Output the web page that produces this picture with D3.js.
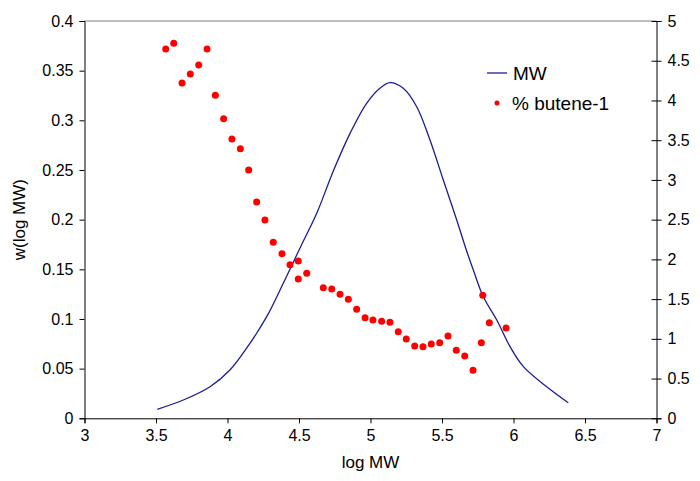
<!DOCTYPE html>
<html>
<head>
<meta charset="utf-8">
<script src="https://cdn.jsdelivr.net/npm/d3@7"></script>
<style>
  html, body { margin: 0; padding: 0; background: #fff; }
  svg { display: block; font-family: Arial, "Liberation Sans", sans-serif; }
</style>
</head>
<body>
<svg id="chart" width="700" height="481"></svg>
<script>
// MW distribution curve: log MW and w(log MW)
const mwLogX = [3.509, 3.691, 3.878, 4.017, 4.157, 4.274, 4.390, 4.460, 4.514, 4.624, 4.740, 4.857, 4.973, 5.066, 5.136, 5.229, 5.323, 5.416, 5.509, 5.603, 5.666, 5.719, 5.789, 5.883, 5.976, 6.069, 6.232, 6.383];
const mwW = [0.0091, 0.0184, 0.0318, 0.0486, 0.0755, 0.1023, 0.1359, 0.1570, 0.1735, 0.2064, 0.2490, 0.2869, 0.3171, 0.3322, 0.3379, 0.3322, 0.3137, 0.2802, 0.2399, 0.1997, 0.1712, 0.1493, 0.1224, 0.0990, 0.0721, 0.0520, 0.0318, 0.0157];

// % butene-1 points: log MW and percentage (right axis)
const buteneLogX = [3.568, 3.624, 3.682, 3.740, 3.799, 3.857, 3.915, 3.973, 4.031, 4.090, 4.148, 4.204, 4.262, 4.320, 4.381, 4.437, 4.495, 4.495, 4.554, 4.670, 4.729, 4.787, 4.845, 4.903, 4.962, 5.017, 5.078, 5.136, 5.194, 5.250, 5.309, 5.367, 5.425, 5.484, 5.542, 5.600, 5.659, 5.717, 5.775, 5.785, 5.831, 5.948];
const butenePct = [4.648, 4.72, 4.22, 4.333, 4.446, 4.648, 4.065, 3.77, 3.515, 3.393, 3.125, 2.722, 2.496, 2.215, 2.072, 1.933, 1.980, 1.753, 1.825, 1.644, 1.627, 1.561, 1.498, 1.372, 1.266, 1.237, 1.221, 1.208, 1.090, 0.998, 0.910, 0.901, 0.935, 0.951, 1.036, 0.856, 0.784, 0.604, 0.951, 1.548, 1.203, 1.136];

const xTicks = [3, 3.5, 4, 4.5, 5, 5.5, 6, 6.5, 7];
const yLeftTicks = [0, 0.05, 0.1, 0.15, 0.2, 0.25, 0.3, 0.35, 0.4];
const yRightTicks = [0, 0.5, 1, 1.5, 2, 2.5, 3, 3.5, 4, 4.5, 5];

const seriesNames = ["MW", "% butene-1"];
const xTitle = "log MW";
const yTitle = "w(log MW)";

const svg = d3.select("#chart");
const pLeft = 84.5, pRight = 656.5, pTop = 21, pBottom = 418.3;

const x = d3.scaleLinear().domain([3, 7]).range([pLeft, pRight]);
const yL = d3.scaleLinear().domain([0, 0.4]).range([pBottom, pTop]);
const yR = d3.scaleLinear().domain([0, 5]).range([pBottom, pTop]);

// top border
svg.append("line")
  .attr("x1", pLeft).attr("x2", pRight).attr("y1", pTop).attr("y2", pTop)
  .attr("stroke", "#808080").attr("stroke-width", 1);

const tickFont = "16px";

const gx = svg.append("g").attr("transform", `translate(0,${pBottom})`)
  .call(d3.axisBottom(x).tickValues(xTicks).tickFormat(d3.format("")).tickSizeOuter(0).tickSize(5).tickPadding(6));
const gl = svg.append("g").attr("transform", `translate(${pLeft},0)`)
  .call(d3.axisLeft(yL).tickValues(yLeftTicks).tickFormat(d3.format("")).tickSizeOuter(0).tickSize(5).tickPadding(6));
const gr = svg.append("g").attr("transform", `translate(${pRight},0)`)
  .call(d3.axisRight(yR).tickValues(yRightTicks).tickFormat(d3.format("")).tickSizeOuter(0).tickSize(5).tickPadding(6));
gr.selectAll(".tick line").attr("x1", -5);

[gx, gl, gr].forEach(g => {
  g.selectAll("path.domain").attr("stroke", "#000");
  g.selectAll(".tick line").attr("stroke", "#000");
  g.selectAll("text").attr("font-size", tickFont).attr("fill", "#000")
    .attr("font-family", "Arial, 'Liberation Sans', sans-serif");
});

// axis titles
svg.append("text").attr("x", (pLeft + pRight) / 2).attr("y", 468)
  .attr("text-anchor", "middle").attr("font-size", "17px").text(xTitle);
svg.append("text").attr("transform", `translate(25,${(pTop + pBottom) / 2}) rotate(-90)`)
  .attr("text-anchor", "middle").attr("font-size", "17px").text(yTitle);

// MW line
const mwData = mwLogX.map((v, i) => [v, mwW[i]]);
svg.append("path").datum(mwData)
  .attr("fill", "none").attr("stroke", "#1c1c94").attr("stroke-width", 1.3)
  .attr("d", d3.line().x(d => x(d[0])).y(d => yL(d[1])).curve(d3.curveCatmullRom.alpha(0.5)));

// butene points
const bData = buteneLogX.map((v, i) => [v, butenePct[i]]);
svg.append("g").selectAll("circle").data(bData).join("circle")
  .attr("cx", d => x(d[0])).attr("cy", d => yR(d[1])).attr("r", 3.5).attr("fill", "#ff0000");

// legend
const lg = svg.append("g");
lg.append("line").attr("x1", 487).attr("x2", 507).attr("y1", 73).attr("y2", 73)
  .attr("stroke", "#1c1c94").attr("stroke-width", 1.3);
lg.append("text").attr("x", 513).attr("y", 80).attr("font-size", "19px").text(seriesNames[0]);
lg.append("circle").attr("cx", 497).attr("cy", 103).attr("r", 2.5).attr("fill", "#ff0000");
lg.append("text").attr("x", 512).attr("y", 110).attr("font-size", "19px").text(seriesNames[1]);
</script>
</body>
</html>
